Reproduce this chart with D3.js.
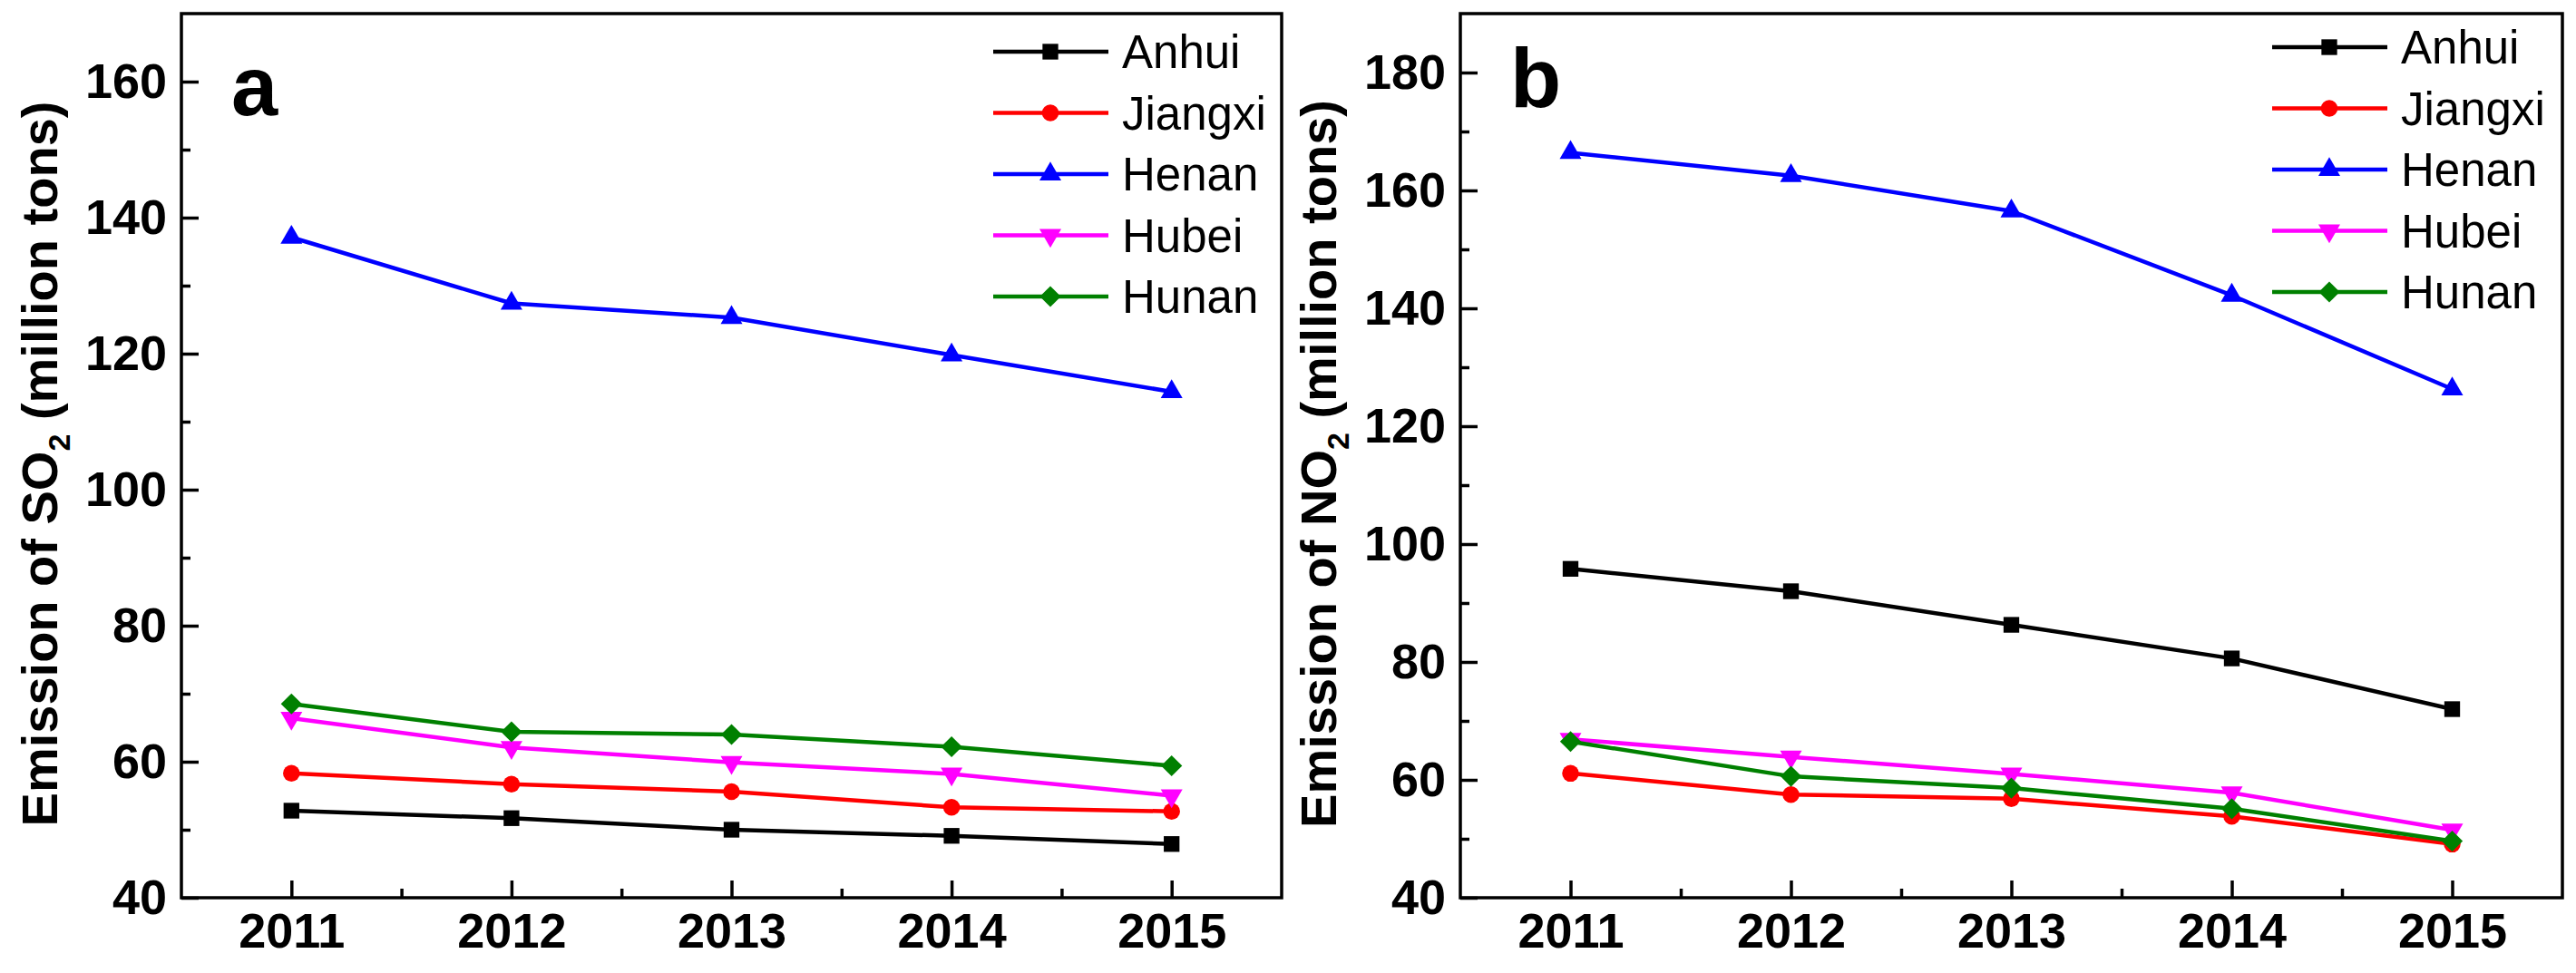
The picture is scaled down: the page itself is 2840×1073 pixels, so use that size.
<!DOCTYPE html>
<html>
<head>
  <meta charset="utf-8">
  <title>SO2 / NO2 emissions</title>
  <style>
    body { margin: 0; background: #fff; }
    text { font-family: "Liberation Sans", Arial, sans-serif; }
  </style>
</head>
<body>
  <div id="chart"></div>

  <script src="https://cdn.jsdelivr.net/npm/d3@7"></script>
  <script>
    // data
    const years = [2011, 2012, 2013, 2014, 2015];
    const provinces = ["Anhui", "Jiangxi", "Henan", "Hubei", "Hunan"];

    const so2Anhui   = [52.8, 51.7, 50.0, 49.1, 47.9];
    const so2Jiangxi = [58.3, 56.7, 55.6, 53.3, 52.7];
    const so2Henan   = [137.1, 127.4, 125.3, 119.8, 114.4];
    const so2Hubei   = [66.4, 62.1, 59.9, 58.2, 55.0];
    const so2Hunan   = [68.5, 64.4, 64.0, 62.2, 59.4];

    const no2Anhui   = [95.8, 92.0, 86.3, 80.6, 72.0];
    const no2Jiangxi = [61.1, 57.5, 56.8, 53.8, 49.1];
    const no2Henan   = [166.4, 162.5, 156.5, 142.2, 126.3];
    const no2Hubei   = [66.9, 63.9, 61.0, 57.8, 51.5];
    const no2Hunan   = [66.5, 60.6, 58.6, 55.1, 49.6];

    const so2Ticks = [40, 60, 80, 100, 120, 140, 160];
    const no2Ticks = [40, 60, 80, 100, 120, 140, 160, 180];

    const colors = ["#000000", "#ff0000", "#0000ff", "#ff00ff", "#008000"];
    const shapes = ["square", "circle", "triangle", "triangleDown", "diamond"];

    const W = 2840, H = 1073;
    const svg = d3.select("#chart").append("svg")
      .attr("width", W)
      .attr("height", H);

    const panels = [
      {
        letter: "a", gas: "SO", series: [so2Anhui, so2Jiangxi, so2Henan, so2Hubei, so2Hunan],
        left: 200, right: 1413, yDomain: [40, 170], ticks: so2Ticks,
        letterY: 127, legendX: 1095, legendY: 57
      },
      {
        letter: "b", gas: "NO", series: [no2Anhui, no2Jiangxi, no2Henan, no2Hubei, no2Hunan],
        left: 1610, right: 2825, yDomain: [40, 190], ticks: no2Ticks,
        letterY: 118, legendX: 2505, legendY: 52
      }
    ];
    const plotTop = 15, plotBottom = 990;

    // marker path + rotation for each shape
    function markerSpec(shape) {
      if (shape === "circle") return { type: d3.symbolCircle, size: 270, rot: 0 };
      if (shape === "triangle") return { type: d3.symbolTriangle, size: 250, rot: 0 };
      if (shape === "triangleDown") return { type: d3.symbolTriangle, size: 250, rot: 180 };
      if (shape === "diamond") return { type: d3.symbolSquare, size: 270, rot: 45 };
      return { type: d3.symbolSquare, size: 300, rot: 0 };
    }
    function drawMarker(sel, shape, color, cx, cy) {
      const m = markerSpec(shape);
      sel.append("path")
        .attr("d", d3.symbol().type(m.type).size(m.size)())
        .attr("fill", color)
        .attr("transform", `translate(${cx},${cy}) rotate(${m.rot})`);
    }

    function styleTicks(a) {
      a.select(".domain").remove();
      a.selectAll("line").attr("stroke", "#000").attr("stroke-width", 3.5);
      a.selectAll("text")
        .attr("font-size", 54).attr("font-weight", "bold")
        .attr("font-family", "'Liberation Sans', Arial, sans-serif")
        .attr("fill", "#000");
    }

    panels.forEach(p => {
      const x = d3.scaleLinear().domain([2010.5, 2015.5]).range([p.left, p.right]);
      const y = d3.scaleLinear().domain(p.yDomain).range([plotBottom, plotTop]);
      const g = svg.append("g");

      // minor ticks
      const yMinor = d3.range(p.yDomain[0] + 10, p.yDomain[1], 20);
      const xMinor = years.slice(0, -1).map(d => d + 0.5);

      g.append("g")
        .attr("transform", `translate(${p.left},0)`)
        .call(d3.axisLeft(y).tickValues(yMinor).tickSize(-10).tickFormat(""))
        .call(styleTicks);

      g.append("g")
        .attr("transform", `translate(0,${plotBottom})`)
        .call(d3.axisBottom(x).tickValues(xMinor).tickSize(-10).tickFormat(""))
        .call(styleTicks);

      // major ticks
      g.append("g")
        .attr("transform", `translate(${p.left},0)`)
        .call(d3.axisLeft(y).tickValues(p.ticks).tickSize(-19).tickPadding(16).tickFormat(d3.format("d")))
        .call(styleTicks);

      g.append("g")
        .attr("transform", `translate(0,${plotBottom})`)
        .call(d3.axisBottom(x).tickValues(years).tickSize(-19).tickPadding(17).tickFormat(d3.format("d")))
        .call(styleTicks);

      // frame
      g.append("rect")
        .attr("x", p.left).attr("y", plotTop)
        .attr("width", p.right - p.left).attr("height", plotBottom - plotTop)
        .attr("fill", "none").attr("stroke", "#000").attr("stroke-width", 3.5);

      // y title
      const title = g.append("text")
        .attr("transform", `translate(${p.left - 137},${(plotTop + plotBottom) / 2 + 9}) rotate(-90)`)
        .attr("text-anchor", "middle")
        .attr("font-size", 56).attr("font-weight", "bold");
      title.append("tspan").text(`Emission of ${p.gas}`);
      title.append("tspan").attr("font-size", 34).attr("dy", 14).text("2");
      title.append("tspan").attr("dy", -14).text(" (million tons)");

      // panel letter
      g.append("text")
        .attr("x", p.left + 55).attr("y", p.letterY)
        .attr("font-size", 92).attr("font-weight", "bold")
        .text(p.letter);

      // lines and markers
      const line = d3.line().x((d, i) => x(years[i])).y(d => y(d));
      p.series.forEach((vals, s) => {
        g.append("path")
          .datum(vals)
          .attr("d", line)
          .attr("fill", "none")
          .attr("stroke", colors[s])
          .attr("stroke-width", 4.5)
          .attr("stroke-linejoin", "round");
        vals.forEach((v, i) => drawMarker(g, shapes[s], colors[s], x(years[i]), y(v)));
      });

      // legend
      provinces.forEach((name, s) => {
        const ly = p.legendY + s * 67.5;
        const lg = g.append("g");
        lg.append("line")
          .attr("x1", p.legendX).attr("x2", p.legendX + 127)
          .attr("y1", ly).attr("y2", ly)
          .attr("stroke", colors[s]).attr("stroke-width", 4.5);
        drawMarker(lg, shapes[s], colors[s], p.legendX + 63, ly);
        lg.append("text")
          .attr("x", p.legendX + 142).attr("y", ly + 18)
          .attr("font-size", 51)
          .text(name);
      });
    });
  </script>
</body>
</html>
